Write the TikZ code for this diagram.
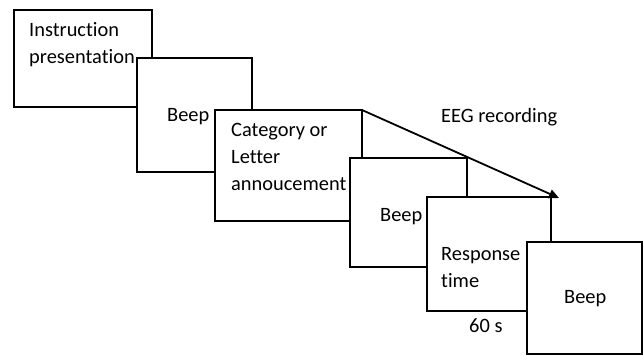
\documentclass[tikz,border=0pt]{standalone}
\usepackage{fontspec}
\setmainfont{Carlito}[Ligatures=NoCommon]
\usetikzlibrary{arrows.meta}
\begin{document}
\begin{tikzpicture}[x=1pt,y=-1pt,
  box/.style={draw, fill=white, line width=1.6pt, outer sep=0pt, inner sep=0pt, anchor=north west},
  lbl/.style={font=\fontsize{20.4}{27}\selectfont, align=left, anchor=base west, inner sep=0pt}]
\useasboundingbox (0,0) rectangle (643,356);
\node[box, minimum width=138, minimum height=97] (b1) at (14,10) {};
\node[box, minimum width=115, minimum height=114] (b2) at (137,58) {};
\node[box, minimum width=147, minimum height=111] (b3) at (215,110) {};
\node[box, minimum width=117, minimum height=109] (b4) at (350,158) {};
\node[box, minimum width=124, minimum height=114] (b5) at (427,197) {};
\node[box, minimum width=115, minimum height=112] (b6) at (527,242) {};
\coordinate (tip) at (559,198);
\draw[line width=1.8pt, -{Triangle[length=10pt,width=9pt]}] (b3.north east) -- (tip);
\node[lbl] (t1) at (29,63) {Instruction\\presentation};
\node[lbl] (t2) at (167,121) {Beep};
\node[lbl] (t3) at (231,190) {Category or\\Letter\\annoucement};
\node[lbl] (t4) at (380,221) {Beep};
\node[lbl] (t5) at (441,287) {Response\\time};
\node[lbl] (t6) at (564,303) {Beep};
\node[lbl] (t7) at (469,332) {60 s};
\node[lbl] (t8) at (441,122) {EEG recording};
\end{tikzpicture}
\end{document}
